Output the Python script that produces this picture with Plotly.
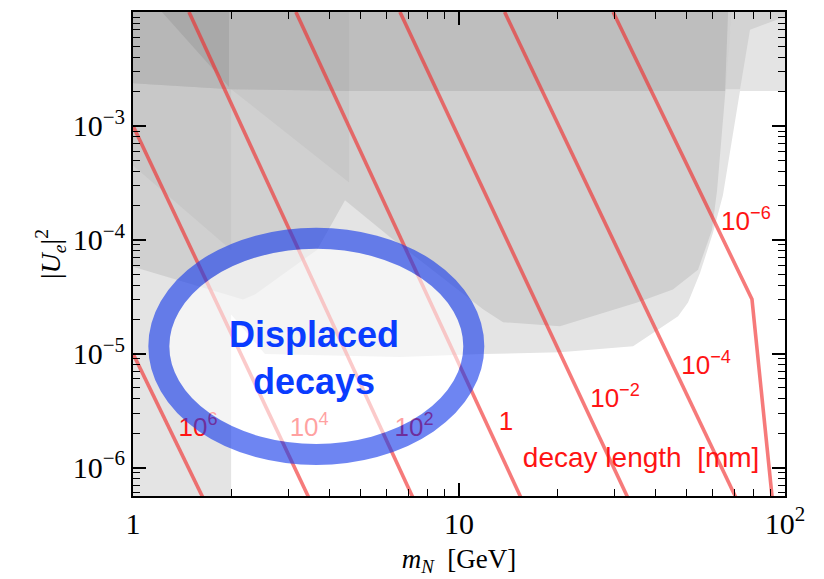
import math
import plotly.graph_objects as go

# ---------------- data (m_N in GeV, |U_e|^2) ----------------
# excluded regions (grey shades, drawn light -> dark)
band_m = [1, 100, 100, 6.59, 2.0, 1]
band_u = [1e-2, 1e-2, 2.02e-3, 2.02e-3, 2.10e-3, 2.37e-3]

env_m = [1, 2.0, 2.0, 2.54, 6.59, 11.85, 20.4, 34.2, 47.0, 50.4, 54.9, 60.1, 64.5, 78.1, 100, 100, 1]
env_u = [5e-7, 5e-7, 2.21e-5, 9.92e-6, 9.34e-6, 9.92e-6, 1.03e-5, 1.16e-5, 2.13e-5, 2.81e-5,
         5.14e-5, 1.146e-4, 2.46e-4, 7.0e-3, 9.08e-3, 1e-2, 1e-2]

corner_m = [68.8, 100, 100, 78.1, 72.8, 65.0]
corner_u = [1e-2, 1e-2, 9.08e-3, 7.0e-3, 2.10e-3, 2.10e-3]

mid_m = [1, 68.8, 61.9, 59.7, 54.1, 45.3, 35.2, 20.4, 13.65, 11.85, 6.14, 4.47, 3.668, 2.367, 2.175, 1]
mid_u = [1e-2, 1e-2, 2.72e-4, 1.22e-4, 5.46e-5, 3.65e-5, 2.81e-5, 1.74e-5, 1.89e-5, 2.45e-5,
         1.06e-4, 2.22e-4, 8.15e-5, 3.31e-5, 2.99e-5, 5.80e-5]

left_m = [1, 4.60, 4.60, 2.0, 2.0, 1]
left_u = [2.37e-3, 2.02e-3, 3.19e-4, 2.10e-3, 8.15e-5, 4.48e-4]

top_m = [1, 66.9, 65.5, 4.60, 2.0, 1]
top_u = [1e-2, 1e-2, 2.02e-3, 2.02e-3, 2.10e-3, 2.37e-3]

topleft_m = [1, 4.60, 4.60, 2.0, 1]
topleft_u = [1e-2, 1e-2, 2.02e-3, 2.10e-3, 2.37e-3]

dark_m = [1.227, 1.97, 1.97]
dark_u = [1e-2, 1e-2, 2.19e-3]

# decay-length contours [mm]
c6_m, c6_u = [1.0, 1.662], [1e-5, 5e-7]
c4_m, c4_u = [1.0, 3.51], [1e-3, 5e-7]
c2_m, c2_u = [1.485, 7.32], [1e-2, 5e-7]
c0_m, c0_u = [3.16, 15.7], [1e-2, 5e-7]
cm2_m, cm2_u = [6.59, 33.4], [1e-2, 5e-7]
cm4_m, cm4_u = [13.8, 71.7], [1e-2, 5e-7]
cm6_m, cm6_u = [29.7, 79.2, 91.6], [1e-2, 3.0e-5, 5e-7]

# contour labels
lab_text = ["10<sup>6</sup>", "10<sup>4</sup>", "10<sup>2</sup>", "1",
            "10<sup>\u22122</sup>", "10<sup>\u22124</sup>", "10<sup>\u22126</sup>"]
lab_m = [1.583, 3.47, 7.28, 13.94, 30.1, 57.3, 75.9]
lab_u = [2.15e-6, 2.15e-6, 2.15e-6, 2.44e-6, 3.85e-6, 7.6e-6, 1.40e-4]

# axis ticks
x_tickvals = [1, 10, 100]
x_ticktext = ["1", "10", "10<sup>2</sup>"]
y_tickvals = [1e-6, 1e-5, 1e-4, 1e-3, 1e-2]
y_ticktext = ["10<sup>\u22126</sup>", "10<sup>\u22125</sup>", "10<sup>\u22124</sup>",
              "10<sup>\u22123</sup>", ""]

# ---------------- figure ----------------
fig = go.Figure()

regions = [
    (band_m, band_u, "#e4e4e4"),
    (env_m, env_u, "#e4e4e4"),
    (corner_m, corner_u, "#d3d3d3"),
    (mid_m, mid_u, "#d0d0d0"),
    (left_m, left_u, "#c8c8c8"),
    (top_m, top_u, "#bebebe"),
    (topleft_m, topleft_u, "#b7b7b7"),
    (dark_m, dark_u, "#a9a9a9"),
]
for m, u, col in regions:
    fig.add_trace(go.Scatter(x=m, y=u, mode="lines", fill="toself", fillcolor=col,
                             line=dict(width=0), hoverinfo="skip"))

line_col = "rgba(240,40,40,0.62)"
for m, u in [(c6_m, c6_u), (c4_m, c4_u), (c2_m, c2_u), (c0_m, c0_u),
             (cm2_m, cm2_u), (cm4_m, cm4_u), (cm6_m, cm6_u)]:
    fig.add_trace(go.Scatter(x=m, y=u, mode="lines", line=dict(color=line_col, width=3.6),
                             hoverinfo="skip"))

fig.add_trace(go.Scatter(x=lab_m, y=lab_u, mode="text", text=lab_text,
                         textfont=dict(family="Liberation Sans", size=26, color="#ff1414"),
                         hoverinfo="skip"))
fig.add_trace(go.Scatter(x=[36.2], y=[1.16e-6], mode="text",
                         text=["decay length\u00a0\u00a0[mm]"],
                         textfont=dict(family="Liberation Sans", size=28, color="#ff1414"),
                         hoverinfo="skip"))

# "displaced decays" ellipse (pixel-space ellipse on log axes)
cx, cy = math.log10(3.65), math.log10(1.16e-5)
rx, ry = 0.4831, 0.9495          # ring centre line, decades
rxi, ryi = 0.4509, 0.858         # inner edge of ring
fig.add_shape(type="circle", xref="x", yref="y", layer="above",
              x0=10 ** (cx - rxi), x1=10 ** (cx + rxi), y0=10 ** (cy - ryi), y1=10 ** (cy + ryi),
              fillcolor="rgba(255,255,255,0.6)", line=dict(width=0))
fig.add_shape(type="circle", xref="x", yref="y", layer="above",
              x0=10 ** (cx - rx), x1=10 ** (cx + rx), y0=10 ** (cy - ry), y1=10 ** (cy + ry),
              line=dict(color="rgba(26,62,235,0.63)", width=21))

fig.add_annotation(x=math.log10(3.60), y=-5.04, xref="x", yref="y",
                   text="<b>Displaced<br>decays</b>", showarrow=False,
                   font=dict(family="Liberation Sans", size=36, color="#0a3cff"))

serif = "Liberation Serif"
minor_x = [k * 10 ** e for e in range(0, 2) for k in range(2, 10)]
minor_y = [k * 10 ** e for e in range(-7, -2) for k in range(2, 10)]

fig.update_xaxes(type="log", range=[0, 2], tickmode="array", tickvals=x_tickvals,
                 ticktext=x_ticktext, ticks="inside", ticklen=13, tickwidth=1.5,
                 tickcolor="black", showline=True, linecolor="black", linewidth=1.8,
                 mirror="allticks", showgrid=False, zeroline=False,
                 tickfont=dict(family=serif, size=30, color="black"),
                 minor=dict(tickmode="array", tickvals=minor_x, ticks="inside", ticklen=7,
                            tickwidth=1.2, tickcolor="black", showgrid=False),
                 title=dict(text="<i>m</i><sub><i>N</i></sub>\u00a0\u00a0[GeV]",
                            font=dict(family=serif, size=27, color="black"), standoff=10))
fig.update_yaxes(type="log", range=[-6.25, -2], tickmode="array", tickvals=y_tickvals,
                 ticktext=y_ticktext, ticks="inside", ticklen=13, tickwidth=1.5,
                 tickcolor="black", showline=True, linecolor="black", linewidth=1.8,
                 mirror="allticks", showgrid=False, zeroline=False,
                 tickfont=dict(family=serif, size=30, color="black"),
                 minor=dict(tickmode="array", tickvals=minor_y, ticks="inside", ticklen=7,
                            tickwidth=1.2, tickcolor="black", showgrid=False),
                 title=dict(text="|<i>U</i><sub><i>e</i></sub>|<sup>2</sup>",
                            font=dict(family=serif, size=28, color="black"), standoff=4))

fig.update_layout(width=824, height=579, margin=dict(l=133, r=39, t=10, b=81),
                  paper_bgcolor="white", plot_bgcolor="white", showlegend=False)

fig.write_html("out.html")
